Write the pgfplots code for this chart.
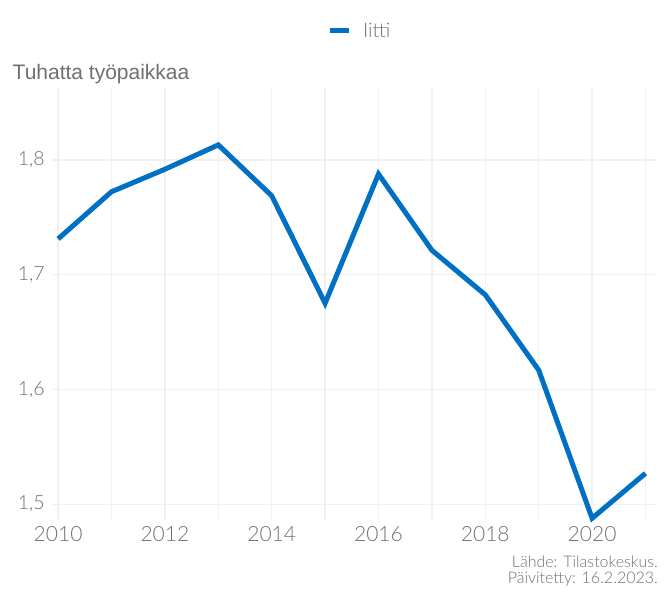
\documentclass[border=0pt]{standalone}
\usepackage{fontspec}
\setmainfont{Lato Light}
\newfontfamily\titlefont{Liberation Sans}
\usepackage{pgfplots}
\pgfplotsset{compat=1.18}
\definecolor{lineblue}{RGB}{0,112,197}
\definecolor{txtgray}{RGB}{112,112,112}
\definecolor{gridgray}{RGB}{240,240,240}
\begin{document}
\begin{tikzpicture}[x=1bp,y=1bp]
\useasboundingbox (0,0) rectangle (665,590);
\begin{axis}[
  at={(51.7bp,70bp)}, anchor=south west,
  scale only axis, width=605bp, height=432bp,
  xmin=2009.88, xmax=2021.21,
  ymin=1.4863, ymax=1.8627,
  axis line style={draw=none},
  major tick length=0pt,
  xtick={2010,2011,...,2021},
  xticklabels={2010,,2012,,2014,,2016,,2018,,2020,},
  ytick={1.5,1.6,1.7,1.8},
  grid=major,
  major grid style={gridgray, line width=1.3bp},
  /pgf/number format/assume math mode=true,
  yticklabel={\pgfmathprintnumber[fixed,precision=1,use comma]{\tick}},
  tick label style={text=txtgray},
  xticklabel style={font=\fontsize{21bp}{24bp}\selectfont, yshift=-3bp},
  yticklabel style={font=\fontsize{19.5bp}{22bp}\selectfont, xshift=-3.4bp},
  legend style={at={(axis description cs:0.455,1.132)}, anchor=west,
    draw=none, fill=none, inner sep=0pt, nodes={inner sep=0pt},
    font=\fontsize{20bp}{23bp}\selectfont, text=txtgray,
    /tikz/every odd column/.append style={column sep=12bp}},
  legend image code/.code={\draw[#1, line width=5bp] (0bp,0bp) -- (19bp,0bp);},
  clip=false,
]
\addplot[lineblue, line width=5bp, line join=miter] coordinates {
(2010,1.7312) (2011,1.7723) (2012,1.7919) (2013,1.8131) (2014,1.7688)
(2015,1.6752) (2016,1.7877) (2017,1.7213) (2018,1.6825) (2019,1.6169)
(2020,1.4878) (2021,1.5270)
};
\addlegendentry{Iitti}
\end{axis}
\node[anchor=base west, inner sep=0, text=txtgray, font=\titlefont\fontsize{21bp}{24bp}\selectfont] at (12.5,510) {Tuhatta työpaikkaa};
\node[anchor=base east, inner sep=0, text=txtgray, font=\fontsize{16bp}{19bp}\selectfont] at (658,22.5) {Lähde: Tilastokeskus.};
\node[anchor=base east, inner sep=0, text=txtgray, font=\fontsize{16bp}{19bp}\selectfont] at (658,6.5) {Päivitetty: 16.2.2023.};
\end{tikzpicture}
\end{document}
